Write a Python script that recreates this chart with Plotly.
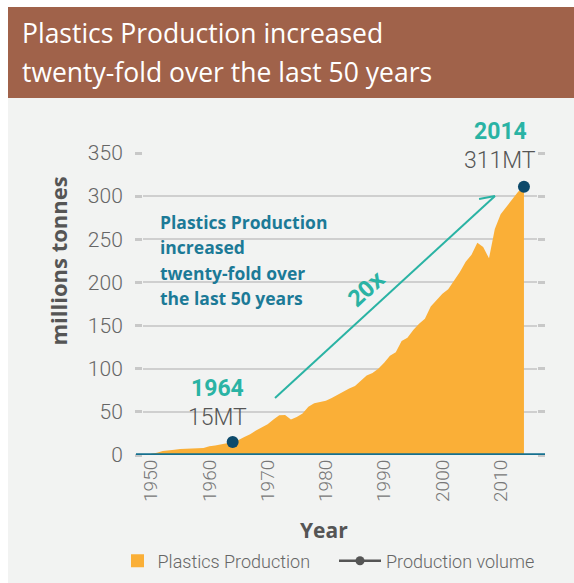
import plotly.graph_objects as go

# Global plastics production, millions of tonnes per year
years = list(range(1950, 2015))
production = [
    1.5, 2.5, 4.5, 5, 6, 7, 7.5, 7.5, 7.7, 8,
    10, 11, 12, 13.5, 15, 17.5, 21, 24, 28.5, 32,
    35.5, 41, 46, 46.5, 41, 44, 48, 56, 60, 61.5,
    63, 66, 70, 73, 77, 80, 86, 92, 95, 100,
    107, 115, 119, 132, 136, 145, 152, 158, 172, 180,
    187, 192, 202, 212, 224, 232, 246, 241, 228, 262,
    279, 288, 297, 305, 311,
]

# Highlighted production volumes
volume_years = [1964, 2014]
volume_values = [15, 311]
volume_labels = ["15MT", "311MT"]

y_ticks = [0, 50, 100, 150, 200, 250, 300, 350]
x_ticks = [1950, 1960, 1970, 1980, 1990, 2000, 2010]

W, H = 574, 583
L, R, T, B = 143, 537, 153, 455  # plot area in pixels


def px(x):
    return (x - L) / (R - L)


def py(y):
    return (B - y) / (B - T)


FONT = "'Open Sans', Roboto, sans-serif"
NUM_FONT = "Roboto, 'Open Sans', sans-serif"
ORANGE = "#FAAF37"
TEAL = "#2AB3A4"
BLUE_TXT = "#1C7A97"
NAVY = "#0D4A6B"
GREY_TXT = "#555555"

fig = go.Figure()

fig.add_trace(go.Scatter(
    x=years, y=production, mode="lines", fill="tozeroy",
    line=dict(width=0, color=ORANGE), fillcolor=ORANGE,
    name="Plastics Production", showlegend=False,
))
fig.add_trace(go.Scatter(
    x=volume_years, y=volume_values, mode="markers",
    marker=dict(size=12, color=NAVY),
    name="Production volume", showlegend=False,
))

# legend entries
fig.add_trace(go.Scatter(
    x=[None], y=[None], mode="markers",
    marker=dict(symbol="square", size=13, color=ORANGE),
    name="Plastics Production", legend="legend",
))
fig.add_trace(go.Scatter(
    x=[None], y=[None], mode="lines+markers",
    line=dict(color="#555555", width=2.5),
    marker=dict(size=9, color="#555555"),
    name="Production volume", legend="legend2",
))

shapes = [
    # title band
    dict(type="rect", xref="paper", yref="paper", x0=px(8), x1=px(W + 5),
         y0=py(98), y1=py(7), fillcolor="#A0624A", line=dict(width=0), layer="below"),
    # white page edges
    dict(type="rect", xref="paper", yref="paper", x0=px(-5), x1=px(W + 5),
         y0=py(7), y1=py(-5), fillcolor="white", line=dict(width=0), layer="below"),
    dict(type="rect", xref="paper", yref="paper", x0=px(-5), x1=px(8),
         y0=py(H + 5), y1=py(-5), fillcolor="white", line=dict(width=0), layer="below"),
    # baseline
    dict(type="line", xref="paper", yref="y", x0=px(136), x1=px(545), y0=0, y1=0,
         line=dict(color="#16708F", width=3.5), layer="above"),
]

# growth arrow, drawn in data space from 1971 to 2009
a0 = (1971.27, 66.0)
a1 = (2009.03, 300.2)
barb = (2006.3, 296.7)
shapes.append(dict(type="line", xref="x", yref="y", x0=a0[0], y0=a0[1], x1=a1[0], y1=a1[1],
                   line=dict(color=TEAL, width=2)))
shapes.append(dict(type="line", xref="x", yref="y", x0=barb[0], y0=barb[1], x1=a1[0], y1=a1[1],
                   line=dict(color=TEAL, width=2)))

ann = []


def text(x, y, s, size, color, weight=400, xanchor="center", angle=0, family=FONT):
    ann.append(dict(x=px(x), y=py(y), xref="paper", yref="paper", text=s, showarrow=False,
                    xanchor=xanchor, yanchor="middle", textangle=angle,
                    font=dict(family=family, size=size, color=color, weight=weight)))


text(20, 33, "Plastics Production increased", 26.5, "white", xanchor="left")
text(20, 72, "twenty-fold over the last 50 years", 26.5, "white", xanchor="left")

text(57.5, 261, "millions tonnes", 22, GREY_TXT, weight=700, angle=-90)
text(324, 530, "Year", 21, GREY_TXT, weight=700)

for i, line in enumerate(["Plastics Production", "increased", "twenty-fold over", "the last 50 years"]):
    text(158, 221.7 + i * 25.5, line, 17.5, BLUE_TXT, weight=700, xanchor="left")

text(365.8, 288.3, "20x", 23, TEAL, weight=700, angle=-42.6)

text(217, 388.3, str(volume_years[0]), 23, TEAL, weight=700, family=NUM_FONT)
text(217, 417, volume_labels[0], 23, GREY_TXT, weight=300, family=NUM_FONT)
text(500, 131.7, str(volume_years[1]), 23, TEAL, weight=700, family=NUM_FONT)
text(500, 160.5, volume_labels[1], 23, GREY_TXT, weight=300, family=NUM_FONT)

legend_style = dict(orientation="h", xref="container", yref="container",
                    xanchor="left", y=(H - 561) / H, yanchor="middle",
                    font=dict(family=NUM_FONT, size=18, color="#666666", weight=300),
                    bgcolor="rgba(0,0,0,0)")

fig.update_layout(
    width=W, height=H,
    margin=dict(l=L, r=W - R, t=T, b=H - B, pad=0),
    paper_bgcolor="#F2F3F2", plot_bgcolor="#F2F3F2",
    font=dict(family=NUM_FONT, color="#666666"),
    shapes=shapes, annotations=ann,
    showlegend=True,
    legend=dict(x=117.5 / W, itemwidth=30, **legend_style),
    legend2=dict(x=334 / W, itemwidth=42, **legend_style),
    hovermode=False,
)

fig.update_xaxes(
    range=[1948.61, 2016.24], tickvals=x_ticks, tickangle=-90,
    showgrid=False, zeroline=False, showline=False, ticks="",
    tickfont=dict(size=19, color="#777777", weight=300),
)
fig.update_yaxes(
    range=[0, 350], tickvals=y_ticks,
    showgrid=True, gridcolor="#CFCFCF", gridwidth=1.5, zeroline=False,
    showline=True, linecolor="rgba(0,0,0,0)", mirror="ticks",
    ticks="outside", ticklen=7, tickwidth=3, tickcolor="#C8C8C8",
    ticklabelstandoff=8,
    tickfont=dict(size=21, color="#666666", weight=300),
)

fig.write_html("out.html")
